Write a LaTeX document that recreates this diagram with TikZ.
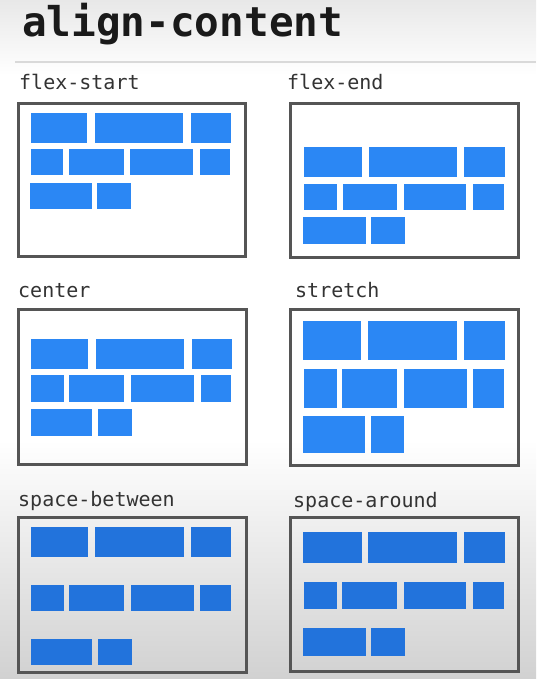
\documentclass[tikz,border=0pt]{standalone}
\usepackage{fontspec}
\setmonofont{DejaVu Sans Mono}
\definecolor{blueA}{HTML}{2B87F4}
\definecolor{blueB}{HTML}{2273DC}
\definecolor{frame}{HTML}{555555}
\definecolor{lbl}{HTML}{333333}
\definecolor{ttl}{HTML}{1A1A1A}
\newcommand\blk[5]{\fill[#1] (#2,#3) rectangle (#4,#5);}
\begin{document}
\begin{tikzpicture}[x=1pt,y=-1pt,
  panel/.style={draw=frame,line width=3pt},
  lab/.style={anchor=base west,inner sep=0pt,text=lbl,font=\ttfamily\fontsize{20}{20}\selectfont},
  ttlstyle/.style={anchor=base west,inner sep=0pt,text=ttl,font=\ttfamily\bfseries\fontsize{41}{41}\selectfont}]
\useasboundingbox (0,0) rectangle (536,679);
\fill[white] (0,0) rectangle (536,679);
\shade[top color=gray!18,bottom color=white] (0,0) rectangle (536,75);
\shade[top color=white,bottom color=gray!36] (0,440) rectangle (536,679);
\node[ttlstyle] (title) at (22,37) {align-content};
\draw[gray!30,line width=1.5pt] (15,62) -- (536,62);
% labels
\node[lab] (l1) at (19,90) {flex-start};
\node[lab] (l2) at (287,90) {flex-end};
\node[lab] (l3) at (18,297) {center};
\node[lab] (l4) at (295,297) {stretch};
\node[lab] (l5) at (18,506) {space-between};
\node[lab] (l6) at (293,507) {space-around};
% panel 1 flex-start
\draw[panel] (18.5,103.5) rectangle (245,256);
\blk{blueA}{31}{113}{87}{143}\blk{blueA}{95}{113}{183}{143}\blk{blueA}{191}{113}{231}{143}
\blk{blueA}{31}{149}{63}{175}\blk{blueA}{69}{149}{124}{175}\blk{blueA}{130}{149}{193}{175}\blk{blueA}{200}{149}{230}{175}
\blk{blueA}{30}{183}{92}{209}\blk{blueA}{97}{183}{131}{209}
% panel 2 flex-end
\draw[panel] (290,103.5) rectangle (518,257);
\blk{blueA}{304}{147}{362}{177}\blk{blueA}{369}{147}{457}{177}\blk{blueA}{464}{147}{505}{177}
\blk{blueA}{304}{184}{337}{210}\blk{blueA}{343}{184}{397}{210}\blk{blueA}{404}{184}{466}{210}\blk{blueA}{473}{184}{504}{210}
\blk{blueA}{303}{217}{366}{244}\blk{blueA}{371}{217}{405}{244}
% panel 3 center
\draw[panel] (18.5,309) rectangle (246,464);
\blk{blueA}{31}{339}{88}{369}\blk{blueA}{96}{339}{184}{369}\blk{blueA}{192}{339}{232}{369}
\blk{blueA}{31}{375}{64}{402}\blk{blueA}{69}{375}{124}{402}\blk{blueA}{131}{375}{194}{402}\blk{blueA}{201}{375}{231}{402}
\blk{blueA}{31}{409}{92}{436}\blk{blueA}{98}{409}{132}{436}
% panel 4 stretch
\draw[panel] (290,309) rectangle (518,465);
\blk{blueA}{303}{321}{361}{360}\blk{blueA}{368}{321}{457}{360}\blk{blueA}{464}{321}{505}{360}
\blk{blueA}{304}{369}{337}{408}\blk{blueA}{342}{369}{397}{408}\blk{blueA}{404}{369}{467}{408}\blk{blueA}{473}{369}{504}{408}
\blk{blueA}{303}{416}{365}{453}\blk{blueA}{371}{416}{404}{453}
% panel 5 space-between
\draw[panel] (18.5,517) rectangle (246,672);
\blk{blueB}{31}{527}{88}{557}\blk{blueB}{95}{527}{184}{557}\blk{blueB}{191}{527}{231}{557}
\blk{blueB}{31}{585}{64}{611}\blk{blueB}{69}{585}{124}{611}\blk{blueB}{131}{585}{194}{611}\blk{blueB}{200}{585}{231}{611}
\blk{blueB}{31}{639}{92}{665}\blk{blueB}{98}{639}{132}{665}
% panel 6 space-around
\draw[panel] (290,517) rectangle (518,671);
\blk{blueB}{303}{532}{362}{563}\blk{blueB}{368}{532}{457}{563}\blk{blueB}{464}{532}{505}{563}
\blk{blueB}{304}{582}{337}{609}\blk{blueB}{342}{582}{397}{609}\blk{blueB}{404}{582}{466}{609}\blk{blueB}{473}{582}{504}{609}
\blk{blueB}{303}{628}{366}{656}\blk{blueB}{371}{628}{405}{656}
\end{tikzpicture}
\end{document}
